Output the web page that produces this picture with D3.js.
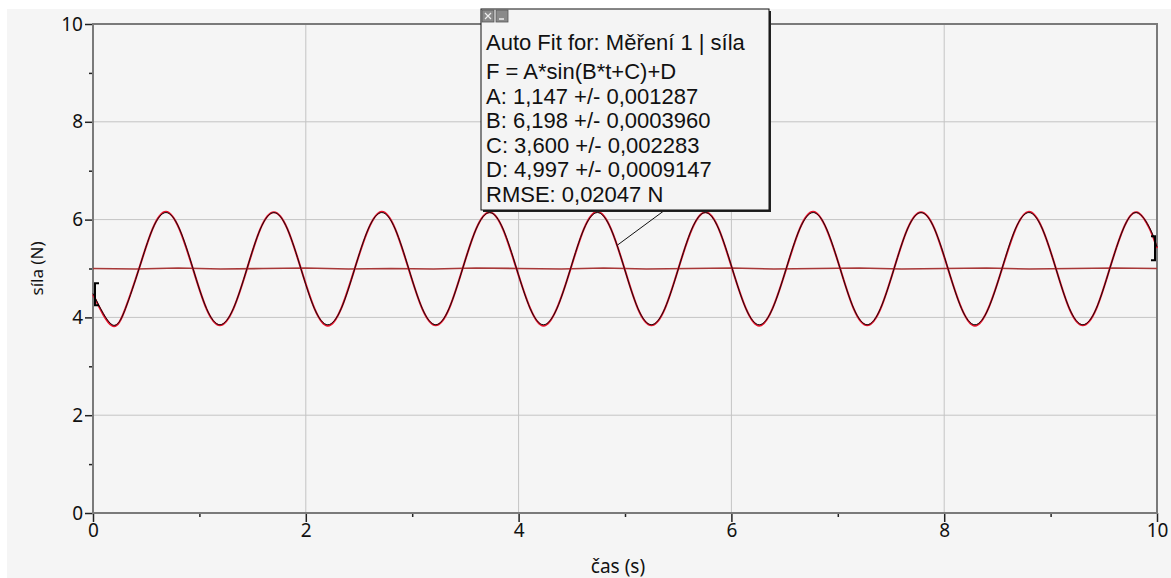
<!DOCTYPE html>
<html>
<head>
<meta charset="utf-8">
<script src="https://cdn.jsdelivr.net/npm/d3@7"></script>
<style>
  html, body { margin: 0; padding: 0; background: #fff; }
  svg { display: block; }
</style>
</head>
<body>
<script>
// sample times (s): start, then every 1/8 period, then end
var sampleTimes = [0,
	0.180, 0.306, 0.433, 0.560, 0.686, 0.813, 0.940, 1.066,
	1.193, 1.320, 1.447, 1.573, 1.700, 1.827, 1.954, 2.080,
	2.207, 2.334, 2.460, 2.587, 2.714, 2.840, 2.967, 3.094,
	3.221, 3.347, 3.474, 3.601, 3.728, 3.854, 3.981, 4.108,
	4.234, 4.361, 4.488, 4.614, 4.741, 4.868, 4.995, 5.121,
	5.248, 5.375, 5.502, 5.628, 5.755, 5.881, 6.008, 6.135,
	6.262, 6.388, 6.515, 6.642, 6.769, 6.895, 7.022, 7.149,
	7.276, 7.402, 7.529, 7.655, 7.782, 7.909, 8.036, 8.162,
	8.289, 8.416, 8.543, 8.669, 8.796, 8.923, 9.050, 9.176,
	9.303, 9.430, 9.556, 9.683, 9.810, 9.936, 10];

// fitted curve (N)
var fitValues = [4.489,
	3.850, 4.186, 4.997, 5.808, 6.144, 5.808, 4.997, 4.186,
	3.850, 4.186, 4.997, 5.808, 6.144, 5.808, 4.997, 4.186,
	3.850, 4.186, 4.997, 5.808, 6.144, 5.808, 4.997, 4.186,
	3.850, 4.186, 4.997, 5.808, 6.144, 5.808, 4.997, 4.186,
	3.850, 4.186, 4.997, 5.808, 6.144, 5.808, 4.997, 4.186,
	3.850, 4.186, 4.997, 5.808, 6.144, 5.808, 4.997, 4.186,
	3.850, 4.186, 4.997, 5.808, 6.144, 5.808, 4.997, 4.186,
	3.850, 4.186, 4.997, 5.808, 6.144, 5.808, 4.997, 4.186,
	3.850, 4.186, 4.997, 5.808, 6.144, 5.808, 4.997, 4.186,
	3.850, 4.186, 4.997, 5.808, 6.144, 5.808, 5.438];

// measured force (N)
var measuredValues = [4.47,
	3.83, 4.19, 5.00, 5.81, 6.16, 5.80, 4.99, 4.18,
	3.84, 4.18, 4.99, 5.81, 6.15, 5.81, 5.00, 4.19,
	3.83, 4.19, 5.00, 5.80, 6.16, 5.81, 4.99, 4.18,
	3.84, 4.18, 5.00, 5.81, 6.15, 5.80, 4.99, 4.19,
	3.83, 4.19, 4.99, 5.81, 6.16, 5.81, 5.00, 4.18,
	3.84, 4.18, 5.00, 5.80, 6.15, 5.81, 4.99, 4.19,
	3.83, 4.19, 4.99, 5.81, 6.16, 5.80, 5.00, 4.18,
	3.84, 4.18, 5.00, 5.81, 6.15, 5.81, 4.99, 4.19,
	3.83, 4.19, 4.99, 5.80, 6.16, 5.81, 5.00, 4.18,
	3.84, 4.18, 5.00, 5.81, 6.15, 5.79, 5.42];

// second (flat) trace
var flatTimes = [0, 0.4, 0.8, 1.2, 1.6, 2.0, 2.4, 2.8, 3.2, 3.6, 4.0, 4.4, 4.8,
	5.2, 5.6, 6.0, 6.4, 6.8, 7.2, 7.6, 8.0, 8.4, 8.8, 9.2, 9.6, 10];
var flatValues = [5.00, 4.99, 5.01, 4.99, 5.00, 5.01, 4.99, 5.00, 4.99, 5.01, 5.00, 4.99, 5.01,
	4.99, 5.00, 5.01, 4.99, 5.00, 5.01, 4.99, 5.00, 5.01, 4.99, 5.00, 5.01, 5.00];

var xTicks = [0, 2, 4, 6, 8, 10];
var xMinorTicks = [1, 3, 5, 7, 9];
var yTicks = [0, 2, 4, 6, 8, 10];
var yMinorTicks = [1, 3, 5, 7, 9];

// examine brackets: [time, low, high]
var brackets = [[0, 4.25, 4.70], [10, 5.17, 5.66]];

var fitLines = [
	"Auto Fit for: Měření 1 | síla",
	"F = A*sin(B*t+C)+D",
	"A: 1,147 +/- 0,001287",
	"B: 6,198 +/- 0,0003960",
	"C: 3,600 +/- 0,002283",
	"D: 4,997 +/- 0,0009147",
	"RMSE: 0,02047 N"
];
var leaderTarget = [4.93, 5.48];

var width = 1171, height = 578;
var plotLeft = 93, plotRight = 1157, plotTop = 24, plotBottom = 513;

var x = d3.scaleLinear().domain([0, 10]).range([plotLeft, plotRight]);
var y = d3.scaleLinear().domain([0, 10]).range([plotBottom, plotTop]);

var svg = d3.select("body").append("svg")
	.attr("width", width)
	.attr("height", height);

// panel background
svg.append("rect")
	.attr("x", 7).attr("y", 9)
	.attr("width", width - 7).attr("height", height - 9)
	.attr("fill", "#f5f5f5");

// grid
svg.append("g").selectAll("line")
	.data(xTicks.slice(1, -1))
	.enter().append("line")
	.attr("x1", function (d) { return x(d); })
	.attr("x2", function (d) { return x(d); })
	.attr("y1", plotTop).attr("y2", plotBottom)
	.attr("stroke", "#c4c4c4").attr("stroke-width", 1);

svg.append("g").selectAll("line")
	.data(yTicks.slice(1, -1))
	.enter().append("line")
	.attr("y1", function (d) { return y(d); })
	.attr("y2", function (d) { return y(d); })
	.attr("x1", plotLeft).attr("x2", plotRight)
	.attr("stroke", "#c4c4c4").attr("stroke-width", 1);

// axes
function styleAxis(g) {
	g.select(".domain").remove();
	g.selectAll(".tick line").attr("stroke", "#222").attr("stroke-width", 1.5);
	g.selectAll(".tick text")
		.attr("fill", "#111")
		.style("font-family", "'Noto Sans', 'Open Sans', sans-serif")
		.style("font-size", "19px");
}

svg.append("g")
	.attr("transform", "translate(0," + plotBottom + ")")
	.call(d3.axisBottom(x).tickValues(xTicks).tickSize(9).tickPadding(2).tickFormat(d3.format("d")))
	.call(styleAxis);

svg.append("g")
	.attr("transform", "translate(0," + plotBottom + ")")
	.call(d3.axisBottom(x).tickValues(xMinorTicks).tickSize(4).tickFormat(""))
	.call(styleAxis);

svg.append("g")
	.attr("transform", "translate(" + plotLeft + ",0)")
	.call(d3.axisLeft(y).tickValues(yTicks).tickSize(8).tickPadding(2).tickFormat(d3.format("d")))
	.call(styleAxis);

svg.append("g")
	.attr("transform", "translate(" + plotLeft + ",0)")
	.call(d3.axisLeft(y).tickValues(yMinorTicks).tickSize(4).tickFormat(""))
	.call(styleAxis);

// frame
svg.append("rect")
	.attr("x", plotLeft).attr("y", plotTop)
	.attr("width", plotRight - plotLeft).attr("height", plotBottom - plotTop)
	.attr("fill", "none")
	.attr("stroke", "#7a7a7a")
	.attr("stroke-width", 2);

// axis titles
svg.append("text")
	.text("čas (s)")
	.attr("x", 618).attr("y", 573)
	.attr("text-anchor", "middle")
	.style("font-family", "'Noto Sans', 'Open Sans', sans-serif")
	.style("font-size", "19px")
	.attr("fill", "#111");

svg.append("text")
	.text("síla (N)")
	.attr("transform", "translate(43," + ((plotTop + plotBottom) / 2) + ") rotate(-90)")
	.attr("text-anchor", "middle")
	.style("font-family", "'Noto Sans', 'Open Sans', sans-serif")
	.style("font-size", "17px")
	.attr("fill", "#111");

// traces
var plot = svg.append("g");

var flatLine = d3.line()
	.x(function (d, i) { return x(flatTimes[i]); })
	.y(function (d) { return y(d); });

plot.append("path")
	.datum(flatValues)
	.attr("d", flatLine)
	.attr("fill", "none")
	.attr("stroke", "#a83838")
	.attr("stroke-width", 1.6);

var smooth = d3.line()
	.x(function (d, i) { return x(sampleTimes[i]); })
	.y(function (d) { return y(d); })
	.curve(d3.curveNatural);

plot.append("path")
	.datum(measuredValues)
	.attr("d", smooth)
	.attr("fill", "none")
	.attr("stroke", "#e8102a")
	.attr("stroke-width", 2);

plot.append("path")
	.datum(fitValues)
	.attr("d", smooth)
	.attr("fill", "none")
	.attr("stroke", "#111")
	.attr("stroke-width", 1);

// examine brackets
plot.selectAll("path.bracket")
	.data(brackets)
	.enter().append("path")
	.attr("class", "bracket")
	.attr("d", function (d) {
		var bx = x(d[0]) + (d[0] === 0 ? 2 : -2);
		var dir = d[0] === 0 ? 4 : -4;
		return "M" + (bx + dir) + "," + y(d[2]) + "H" + bx + "V" + y(d[1]) + "H" + (bx + dir);
	})
	.attr("fill", "none")
	.attr("stroke", "#000")
	.attr("stroke-width", 2);

// fit annotation box
var box = { x: 481, y: 9, w: 288, h: 201 };

svg.append("line")
	.attr("x1", 665).attr("y1", box.y + box.h)
	.attr("x2", x(leaderTarget[0])).attr("y2", y(leaderTarget[1]))
	.attr("stroke", "#111").attr("stroke-width", 1);

svg.append("rect")
	.attr("x", box.x + 2).attr("y", box.y + 2)
	.attr("width", box.w).attr("height", box.h)
	.attr("fill", "#222");

svg.append("rect")
	.attr("x", box.x).attr("y", box.y)
	.attr("width", box.w).attr("height", box.h)
	.attr("fill", "#f4f4f4")
	.attr("stroke", "#111")
	.attr("stroke-width", 1);

// little window buttons
var btns = svg.append("g");
[[box.x + 1, "x"], [box.x + 15, "_"]].forEach(function (b) {
	btns.append("rect")
		.attr("x", b[0]).attr("y", box.y + 1)
		.attr("width", 12).attr("height", 12)
		.attr("fill", "#8a8a8a")
		.attr("stroke", "#555").attr("stroke-width", 0.8);
	if (b[1] === "x") {
		btns.append("path")
			.attr("d", "M" + (b[0] + 3) + "," + (box.y + 4) + "l6,6M" + (b[0] + 9) + "," + (box.y + 4) + "l-6,6")
			.attr("stroke", "#eee").attr("stroke-width", 1.2);
	} else {
		btns.append("line")
			.attr("x1", b[0] + 3).attr("x2", b[0] + 8)
			.attr("y1", box.y + 10).attr("y2", box.y + 10)
			.attr("stroke", "#eee").attr("stroke-width", 1.5);
	}
});

svg.append("g").selectAll("text")
	.data(fitLines)
	.enter().append("text")
	.text(function (d) { return d; })
	.attr("x", box.x + 5)
	.attr("y", function (d, i) { return i === 0 ? 50 : 79 + (i - 1) * 24.5; })
	.style("font-family", "'Liberation Sans', Arial, sans-serif")
	.style("font-size", "22px")
	.attr("fill", "#111");
</script>
</body>
</html>
